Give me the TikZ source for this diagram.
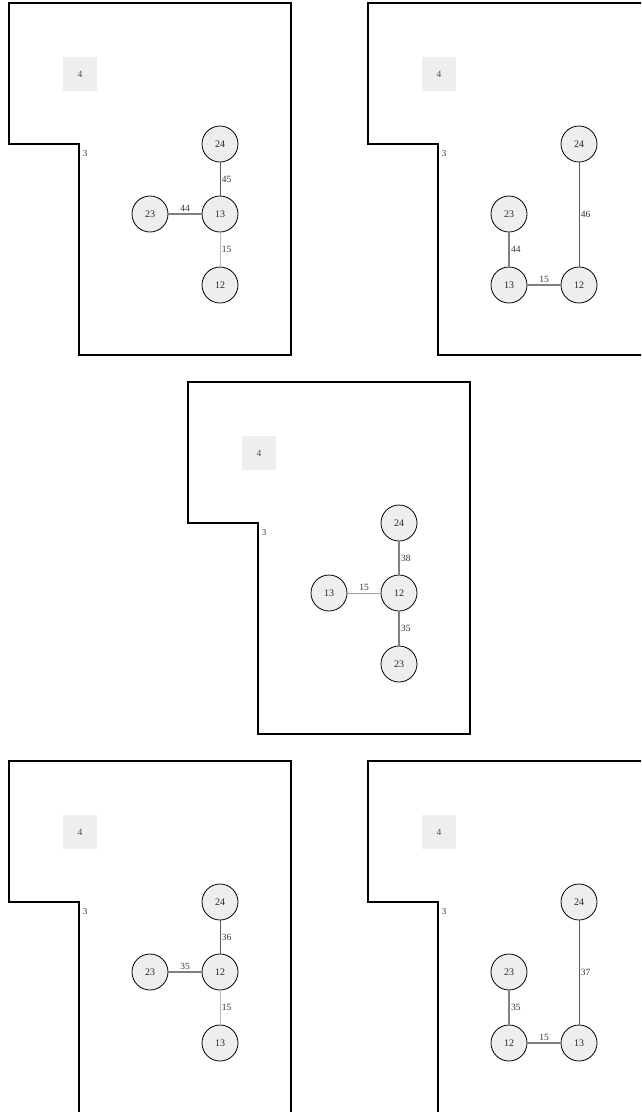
\documentclass[tikz,border=0pt]{standalone}
\usepackage{fontspec}
\setmainfont{Liberation Serif}
\usetikzlibrary{positioning}
\tikzset{
  room/.style={draw=black, line width=1.7pt, line join=miter},
  zonebox/.style={fill=gray!13, minimum size=34pt, inner sep=0pt, text=black!70, font=\fontsize{9.5}{10}\selectfont},
  doorlabel/.style={font=\fontsize{9}{9}\selectfont, text=black!80, inner sep=0pt},
  vertex/.style={circle, draw=black, fill=gray!13, minimum size=36pt, inner sep=0pt, line width=0.8pt, font=\fontsize{10}{10}\selectfont, text=black!85},
  darkedge/.style={draw=black!65, line width=0.9pt},
  midedge/.style={draw=black!50, line width=1.4pt},
  lightedge/.style={draw=black!28, line width=0.9pt},
  wlabel/.style={font=\fontsize{9.5}{10}\selectfont, text=black!80, inner sep=1.5pt}
}
\begin{document}
\begin{tikzpicture}[x=1pt, y=-1pt]
\useasboundingbox (0,0) rectangle (641,1112);
\clip (0,0) rectangle (641,1112);

% room outline, zone and door label of every panel
\foreach \p/\ox/\oy in {a/9/3, b/368/3, c/188/382, d/9/761, e/368/761} {
  \begin{scope}[shift={(\ox,\oy)}]
    \draw[room] (0,0) -- (282,0) -- (282,352) -- (70,352) -- (70,141) -- (0,141) -- cycle;
    \node[zonebox] (\p-zone) at (71,71) {4};
    \node[doorlabel] (\p-door) at (76,151) {3};
  \end{scope}
}

% panel a
\begin{scope}[shift={(9,3)}]
  \node[vertex] (a24) at (211,141) {24};
  \node[vertex] (a13) at (211,211) {13};
  \node[vertex] (a23) at (141,211) {23};
  \node[vertex] (a12) at (211,282) {12};
  \draw[darkedge] (a24) -- node[wlabel, right] {45} (a13);
  \draw[midedge] (a23) -- node[wlabel, above] {44} (a13);
  \draw[lightedge] (a13) -- node[wlabel, right] {15} (a12);
\end{scope}

% panel b
\begin{scope}[shift={(368,3)}]
  \node[vertex] (b24) at (211,141) {24};
  \node[vertex] (b23) at (141,211) {23};
  \node[vertex] (b13) at (141,282) {13};
  \node[vertex] (b12) at (211,282) {12};
  \draw[darkedge] (b24) -- node[wlabel, right] {46} (b12);
  \draw[midedge] (b23) -- node[wlabel, right] {44} (b13);
  \draw[midedge] (b13) -- node[wlabel, above] {15} (b12);
\end{scope}

% panel c
\begin{scope}[shift={(188,382)}]
  \node[vertex] (c24) at (211,141) {24};
  \node[vertex] (c12) at (211,211) {12};
  \node[vertex] (c13) at (141,211) {13};
  \node[vertex] (c23) at (211,282) {23};
  \draw[midedge] (c24) -- node[wlabel, right] {38} (c12);
  \draw[lightedge, draw=black!38] (c13) -- node[wlabel, above] {15} (c12);
  \draw[midedge] (c12) -- node[wlabel, right] {35} (c23);
\end{scope}

% panel d
\begin{scope}[shift={(9,761)}]
  \node[vertex] (d24) at (211,141) {24};
  \node[vertex] (d12) at (211,211) {12};
  \node[vertex] (d23) at (141,211) {23};
  \node[vertex] (d13) at (211,282) {13};
  \draw[darkedge] (d24) -- node[wlabel, right] {36} (d12);
  \draw[midedge] (d23) -- node[wlabel, above] {35} (d12);
  \draw[lightedge] (d12) -- node[wlabel, right] {15} (d13);
\end{scope}

% panel e
\begin{scope}[shift={(368,761)}]
  \node[vertex] (e24) at (211,141) {24};
  \node[vertex] (e23) at (141,211) {23};
  \node[vertex] (e12) at (141,282) {12};
  \node[vertex] (e13) at (211,282) {13};
  \draw[darkedge] (e24) -- node[wlabel, right] {37} (e13);
  \draw[midedge] (e23) -- node[wlabel, right] {35} (e12);
  \draw[midedge] (e12) -- node[wlabel, above] {15} (e13);
\end{scope}
\end{tikzpicture}
\end{document}
